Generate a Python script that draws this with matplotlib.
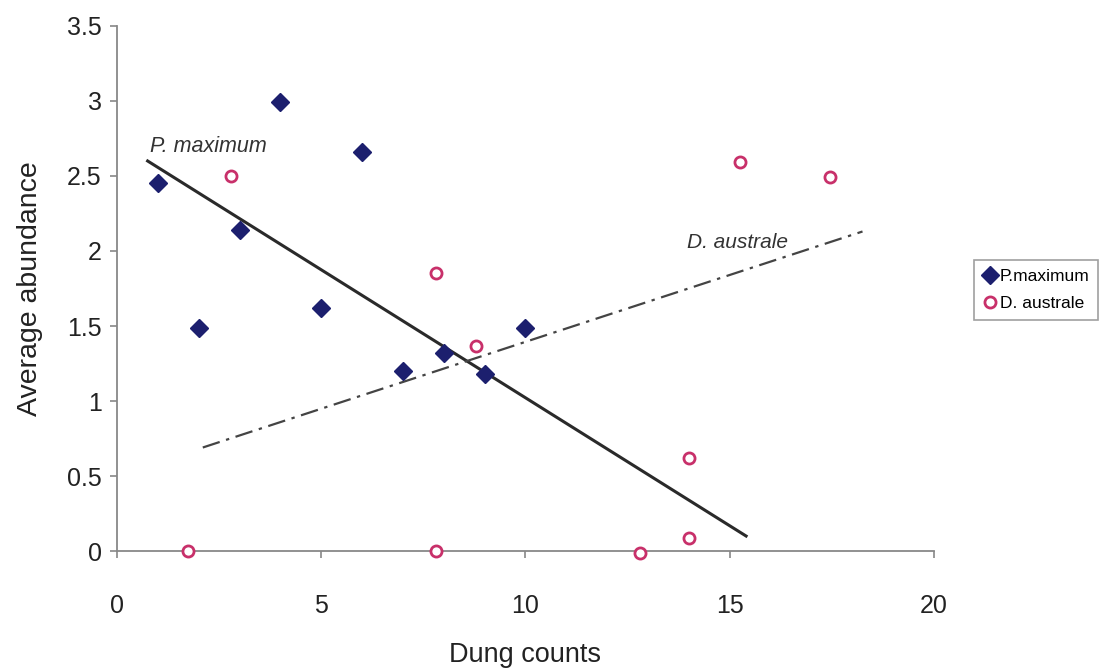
import matplotlib.pyplot as plt

plt.rcParams['font.family'] = ['Liberation Sans', 'DejaVu Sans']

# P. maximum
pm_x = [1, 2, 3, 4, 5, 6, 7, 8, 9, 10]
pm_y = [2.45, 1.49, 2.14, 2.99, 1.62, 2.66, 1.20, 1.32, 1.18, 1.49]

# D. australe
da_x = [1.75, 2.8, 7.8, 7.8, 8.8, 12.8, 14.0, 14.0, 15.25, 17.45]
da_y = [0.0, 2.50, 1.85, 0.0, 1.37, -0.01, 0.62, 0.09, 2.59, 2.49]

# trend lines (end points)
pm_line_x = [0.75, 15.4]
pm_line_y = [2.60, 0.10]
da_line_x = [2.1, 18.25]
da_line_y = [0.69, 2.13]

fig = plt.figure(figsize=(11.09, 6.71), dpi=100)
ax = fig.add_axes([0.1055, 0.1788, 0.7367, 0.7825])

ax.plot(pm_line_x, pm_line_y, color='#2a2a2a', lw=2.2)
ax.plot(da_line_x, da_line_y, color='#444444', lw=1.6, linestyle=(0, (8, 3, 1.5, 3)))

ax.plot(pm_x, pm_y, linestyle='none', marker='D', markersize=9,
        color='#1c1f6e', label='P.maximum', clip_on=False, zorder=3)
ax.plot(da_x, da_y, linestyle='none', marker='o', markersize=8,
        markerfacecolor='white', markeredgecolor='#c8306a', markeredgewidth=2,
        label='D. australe', clip_on=False, zorder=3)

ax.text(0.8, 2.66, 'P. maximum', style='italic', fontsize=15.5, color='#333333')
ax.text(13.95, 2.02, 'D. australe', style='italic', fontsize=15, color='#333333')

ax.set_xlim(0, 20)
ax.set_ylim(0, 3.5)
ax.set_xticks([0, 5, 10, 15, 20])
ax.set_yticks([0, 0.5, 1, 1.5, 2, 2.5, 3, 3.5])
ax.set_yticklabels(['0', '0.5', '1', '1.5', '2', '2.5', '3', '3.5'])

for s in ['top', 'right']:
    ax.spines[s].set_visible(False)
for s in ['left', 'bottom']:
    ax.spines[s].set_color('#888888')
    ax.spines[s].set_linewidth(1.3)
ax.tick_params(axis='both', colors='#888888', labelcolor='#222222',
               labelsize=18, length=5, width=1.2, direction='out')
ax.tick_params(axis='x', pad=26)
ax.tick_params(axis='y', pad=6)

ax.set_xlabel('Dung counts', fontsize=19.5, color='#222222', labelpad=17)
ax.set_ylabel('Average abundance', fontsize=20.5, color='#222222', labelpad=17)

leg = fig.legend(loc='upper left', bbox_to_anchor=(0.878, 0.612),
                 fontsize=12.5, frameon=True, fancybox=False,
                 handletextpad=0.1, handlelength=0.9, borderpad=0.5,
                 labelspacing=0.7, borderaxespad=0)
leg.get_frame().set_edgecolor('#888888')
leg.get_frame().set_linewidth(1.2)

fig.savefig('out.png', dpi=100)
